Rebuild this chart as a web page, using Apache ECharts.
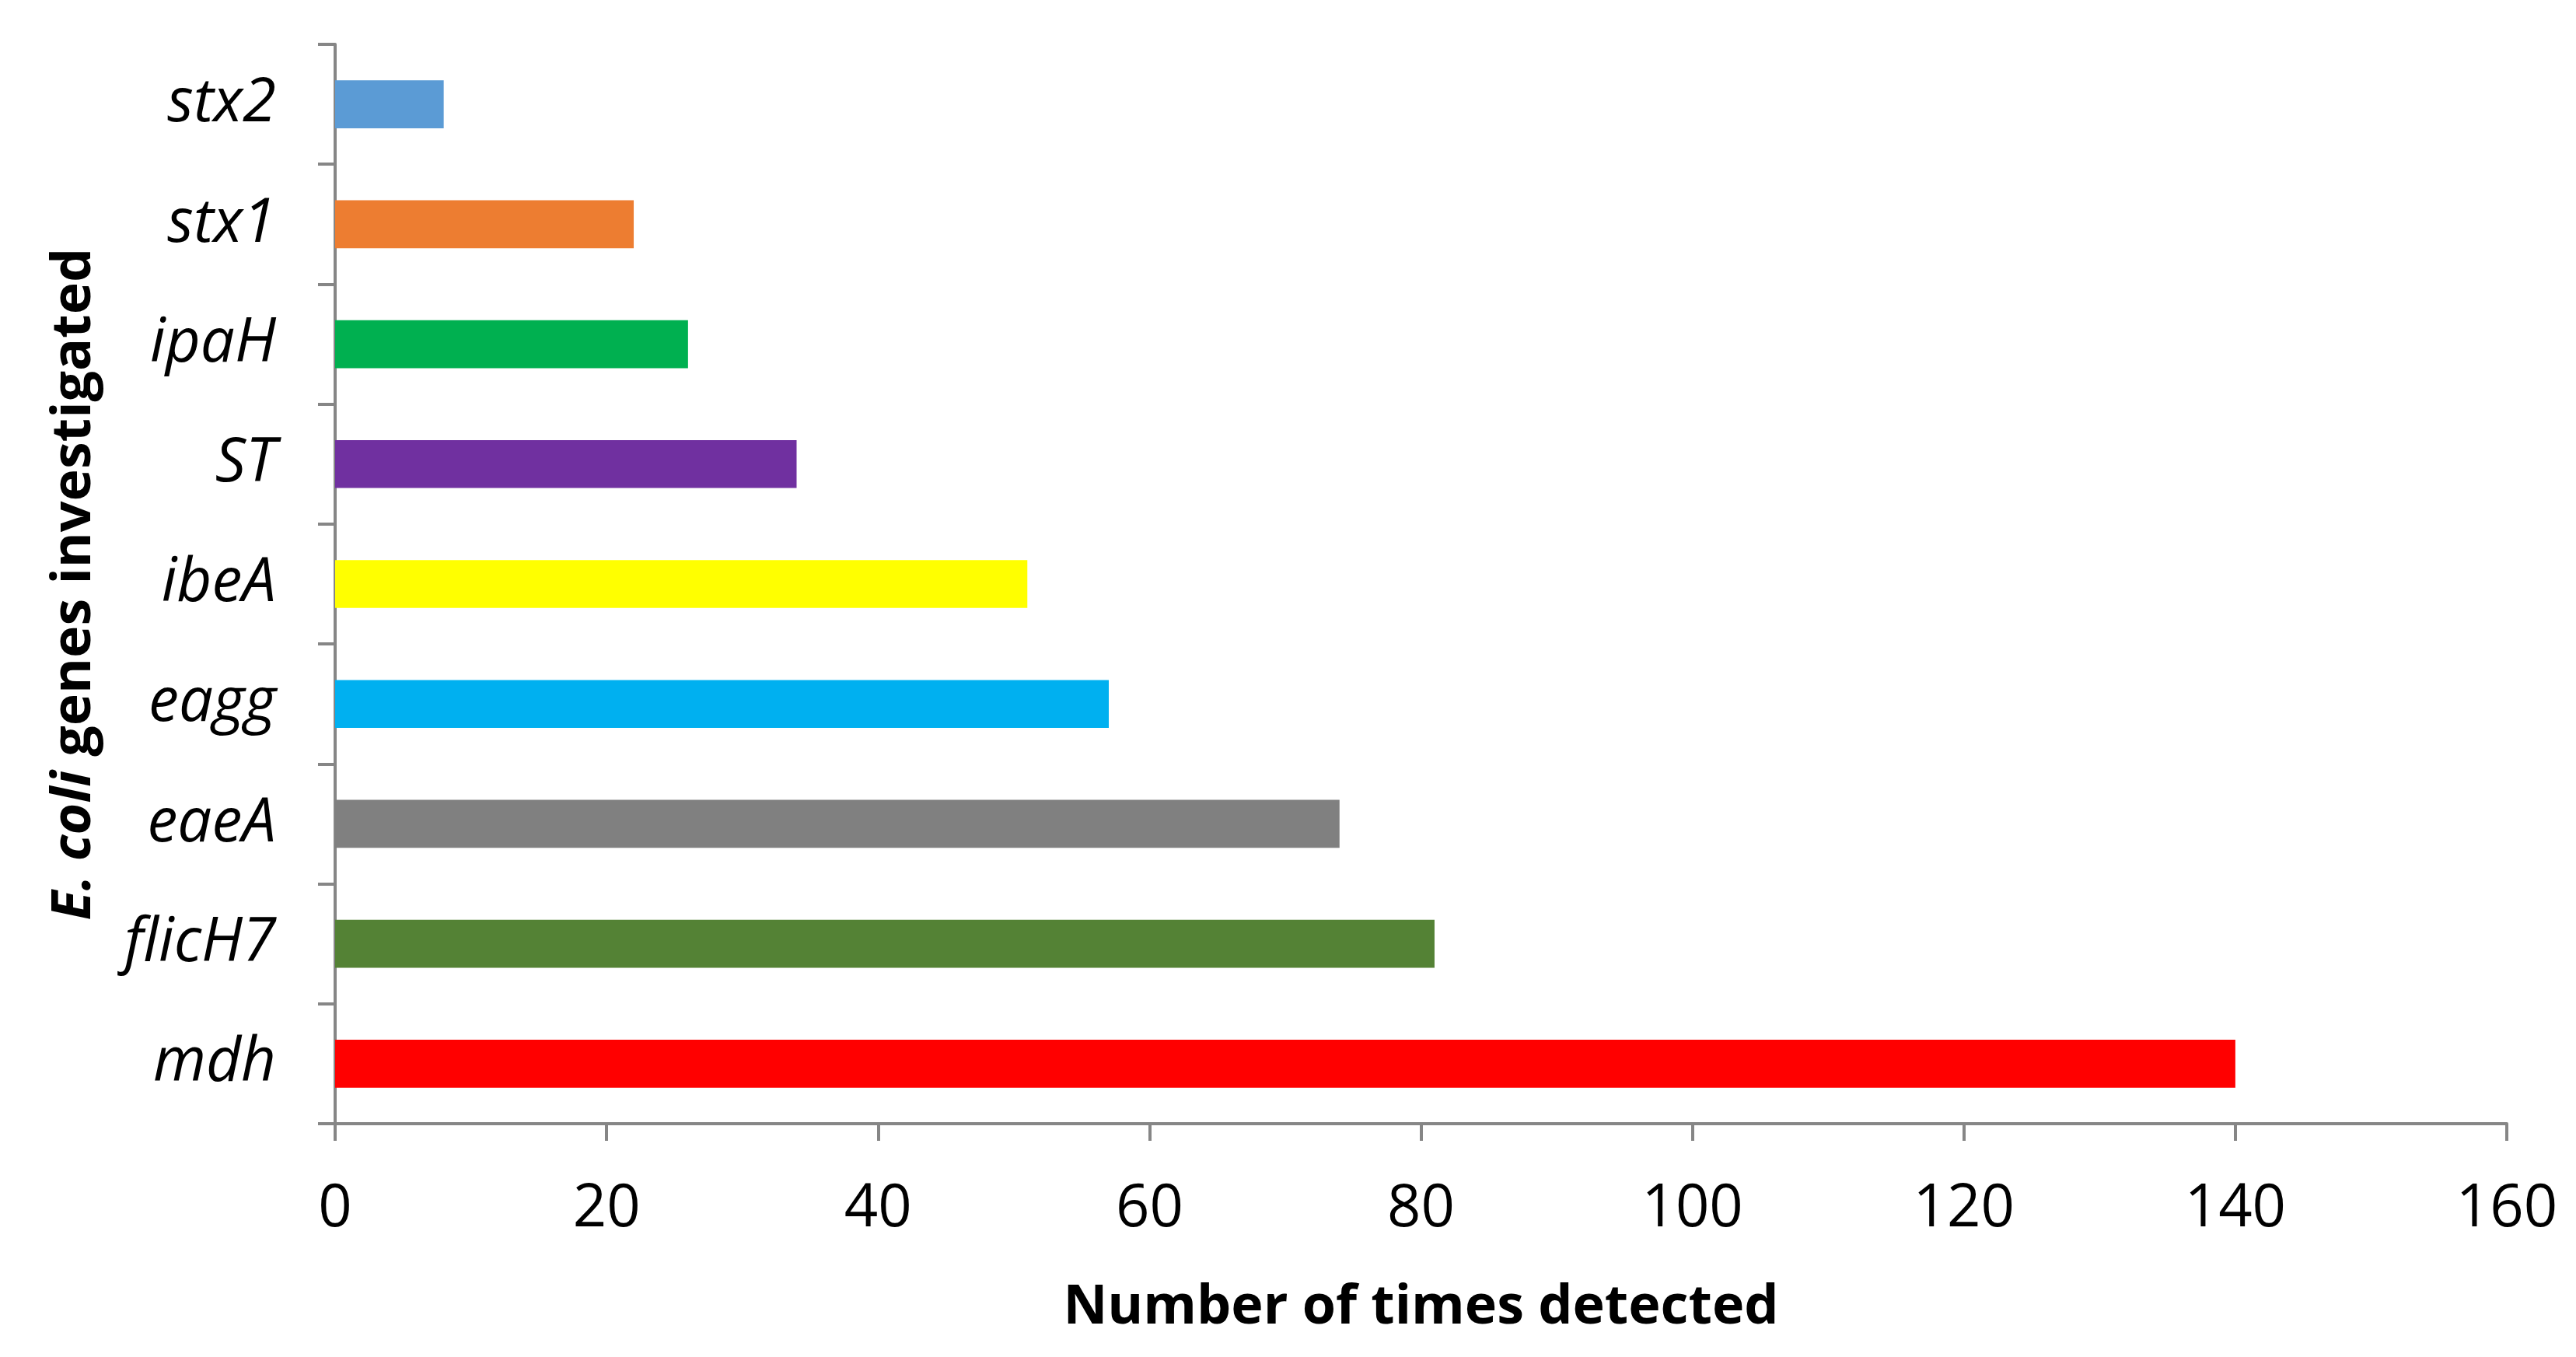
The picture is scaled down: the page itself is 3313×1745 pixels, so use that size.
<!DOCTYPE html>
<html><head><meta charset="utf-8">
<script src="https://cdn.jsdelivr.net/npm/echarts@6/dist/echarts.min.js"></script>
<style>html,body{margin:0;padding:0;background:#fff}#c{width:3313px;height:1745px}</style>
</head><body><div id="c"></div>
<script>
const categories = ['mdh','flicH7','eaeA','eagg','ibeA','ST','ipaH','stx1','stx2'];
const values = [140, 81, 74, 57, 51, 34, 26, 22, 8];
const barColors = ['#FF0000','#548235','#808080','#00B0F0','#FFFF00','#7030A0','#00B050','#ED7D31','#5B9BD5'];
const xTicks = [0,20,40,60,80,100,120,140,160];

const chart = echarts.init(document.getElementById('c'), null, {renderer:'canvas'});
const axisColor = '#868686';
const fontFam = '"Open Sans", "Liberation Sans", sans-serif';
chart.setOption({
  animation:false,
  backgroundColor:'#fff',
  grid:{left:431, right:89, top:57, bottom:300, containLabel:false},
  xAxis:{
    type:'value', min:xTicks[0], max:xTicks[xTicks.length-1], interval:20,
    name:'Number of times detected', nameLocation:'middle', nameGap:202,
    nameTextStyle:{fontFamily:fontFam, fontWeight:'bold', fontSize:70, color:'#000'},
    axisLine:{show:true, lineStyle:{color:axisColor, width:4}},
    axisTick:{show:true, length:22, lineStyle:{color:axisColor, width:4}},
    axisLabel:{fontFamily:fontFam, fontSize:76, color:'#000', margin:72},
    splitLine:{show:false}
  },
  yAxis:{
    type:'category', data:categories,
    name:'{b|E. coli}{n| genes investigated}', nameLocation:'middle', nameGap:300,
    nameTextStyle:{fontFamily:fontFam, fontWeight:'bold', fontSize:70, color:'#000',
      rich:{b:{fontFamily:fontFam, fontWeight:'bold', fontStyle:'italic', fontSize:70, color:'#000'},
            n:{fontFamily:fontFam, fontWeight:'bold', fontSize:70, color:'#000'}}},
    axisLine:{show:true, lineStyle:{color:axisColor, width:4}},
    axisTick:{show:true, length:22, lineStyle:{color:axisColor, width:4}},
    axisLabel:{fontFamily:fontFam, fontStyle:'italic', fontSize:78, color:'#000', margin:76}
  },
  series:[{
    type:'bar', data:values.map((v,i)=>({value:v, itemStyle:{color:barColors[i]}})),
    barCategoryGap:'60%'
  }]
});
</script></body></html>
